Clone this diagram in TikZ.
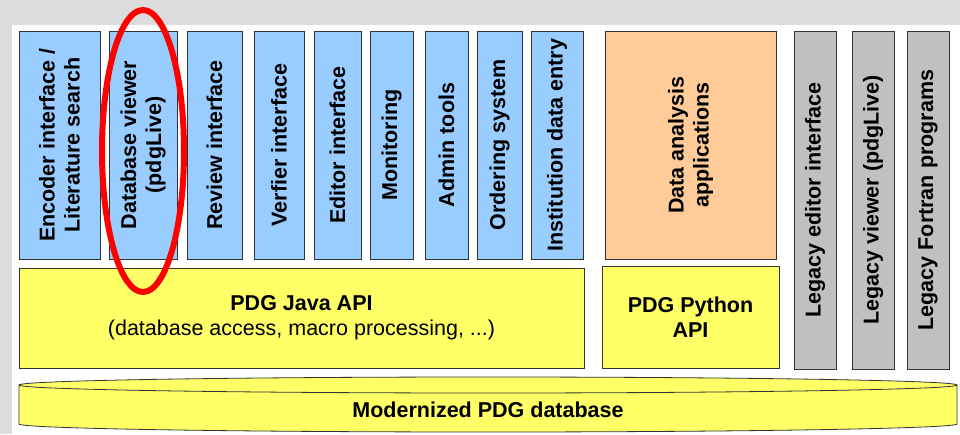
\documentclass[tikz,border=0pt]{standalone}
\usepackage{fontspec}
\setmainfont{Liberation Sans}
\usetikzlibrary{positioning}
\definecolor{appcolor}{RGB}{153, 204, 255}
\definecolor{analysiscolor}{RGB}{255, 204, 153}
\definecolor{legacycolor}{RGB}{192, 192, 192}
\definecolor{apicolor}{RGB}{255, 255, 102}
\definecolor{edgecolor}{RGB}{51, 51, 51}
\definecolor{framecolor}{RGB}{220, 220, 220}
\definecolor{markcolor}{RGB}{255, 0, 0}
\tikzset{
blocktext/.style={
  align=center,
  font=\bfseries\fontsize{21.5}{25}\selectfont,
  text=black
},
box/.style={
  draw=edgecolor,
  line width=0.8pt,
  inner sep=0pt,
  blocktext
},
appblock/.style={
  box,
  fill=appcolor,
  rotate=90,
  minimum width=228pt
},
analysisblock/.style={
  box,
  fill=analysiscolor,
  rotate=90,
  minimum width=228pt
},
legacyblock/.style={
  box,
  fill=legacycolor,
  rotate=90,
  minimum width=338pt,
  minimum height=42pt
},
apiblock/.style={
  box,
  fill=apicolor
},
dbbody/.style={
  draw=edgecolor,
  line width=0.8pt,
  fill=apicolor
},
highlight/.style={
  draw=markcolor,
  line width=6pt
}
}
\begin{document}
\begin{tikzpicture}[x=1pt, y=-1pt]
  % frame of the slide
  \fill[framecolor] (0,0) rectangle (960,434);
  \fill[white] (12,25) rectangle (960,434);
  \useasboundingbox (0,0) rectangle (960,434);

  % applications
  \node[appblock, minimum height=81pt] (encoder) at (59.5,145) {Encoder interface /\\Literature search};
  \node[appblock, minimum height=68pt] (viewer) at (143,145) {Database viewer\\(pdgLive)};
  \node[appblock, minimum height=55pt] (review) at (214.5,145) {Review interface};
  \node[appblock, minimum height=50pt] (verifier) at (279,145) {Verfier interface};
  \node[appblock, minimum height=47pt] (editor) at (337.5,145) {Editor interface};
  \node[appblock, minimum height=43pt] (monitoring) at (391.5,145) {Monitoring};
  \node[appblock, minimum height=43pt] (admin) at (446.5,145) {Admin tools};
  \node[appblock, minimum height=45pt] (ordering) at (499.5,145) {Ordering system};
  \node[appblock, minimum height=52pt] (institution) at (557,145) {Institution data entry};
  \node[analysisblock, minimum height=171pt] (analysis) at (690.5,145) {Data analysis\\applications};

  % legacy tools
  \node[legacyblock] (legeditor) at (815,200) {Legacy editor interface};
  \node[legacyblock] (legviewer) at (873,200) {Legacy viewer (pdgLive)};
  \node[legacyblock] (legfortran) at (928,200) {Legacy Fortran programs};

  % APIs
  \node[apiblock, minimum width=565pt, minimum height=100pt] (javaapi) at (301.5,318)
    {PDG Java API\\{\mdseries (database access, macro processing, ...)}};
  \node[apiblock, minimum width=177pt, minimum height=102pt] (pythonapi) at (690.5,317)
    {PDG Python\\API};

  % database
  \draw[dbbody] (19,385) -- (19,424) arc[start angle=180, end angle=0, x radius=469, y radius=8]
    -- (957,385) arc[start angle=0, end angle=-180, x radius=469, y radius=8] -- cycle;
  \draw[dbbody, fill=none] (19,385) arc[start angle=180, end angle=0, x radius=469, y radius=8];
  \node[blocktext] (database) at (488,410) {Modernized PDG database};

  \draw[highlight] (143,151) ellipse[x radius=41, y radius=141];
\end{tikzpicture}
\end{document}
